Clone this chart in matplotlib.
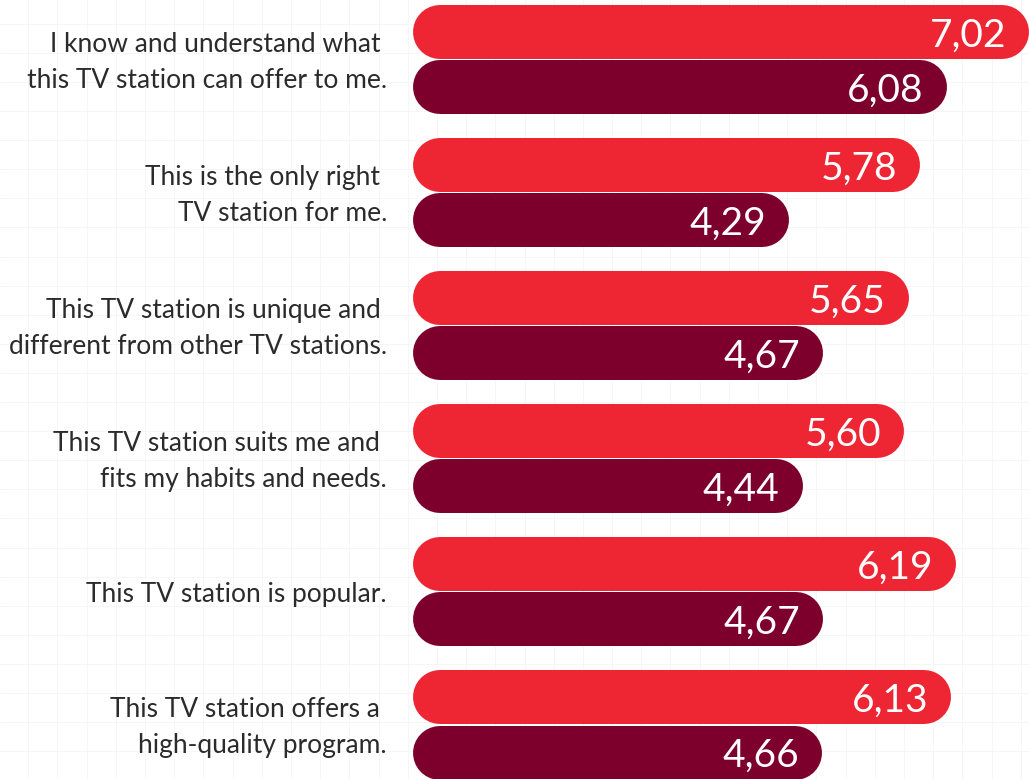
import matplotlib.pyplot as plt
import numpy as np

labels = [
    "I know and understand what \nthis TV station can offer to me.",
    "This is the only right \nTV station for me.",
    "This TV station is unique and \ndifferent from other TV stations.",
    "This TV station suits me and \nfits my habits and needs.",
    "This TV station is popular.",
    "This TV station offers a \nhigh-quality program.",
]
series_a = [7.02, 5.78, 5.65, 5.60, 6.19, 6.13]
series_b = [6.08, 4.29, 4.67, 4.44, 4.67, 4.66]

RED = '#ee2633'
MAROON = '#7d002c'

W, H, DPI = 1029, 779, 100
fig = plt.figure(figsize=(W / DPI, H / DPI), dpi=DPI)

# faint squared paper in the background
bg = fig.add_axes([0, 0, 1, 1])
bg.set_xlim(0, W)
bg.set_ylim(H, 0)
for x in np.arange(28.3, W, 29.19):
    bg.axvline(x, color='#f5f5f5', lw=0.6)
for y in np.arange(23.7, H, 29.1):
    bg.axhline(y, color='#f5f5f5', lw=0.6)
bg.axis('off')

left = 413
ax = fig.add_axes([left / W, 0, 1 - left / W, 1])
ax.set_xlim(0, 7.02)
ax.set_ylim(5.406, -0.447)
ax.axis('off')

px_per_unit = (W - left) / 7.02
bar_px = 54
lw = bar_px * 72 / DPI
r = bar_px / 2 / px_per_unit
off = 0.207

for i, (a, b) in enumerate(zip(series_a, series_b)):
    for v, dy, c in ((a, -off, RED), (b, off, MAROON)):
        ax.plot([r, v - r], [i + dy] * 2, color=c, lw=lw, solid_capstyle='round')
        ax.text(v - 23 / px_per_unit, i + dy, f'{v:.2f}'.replace('.', ','),
                ha='right', va='center_baseline', color='white', fontsize=28,
                family='Lato')
    # labels sit a touch below the group centre
    ax.text(-26 / px_per_unit, i + 0.02, labels[i], ha='right', va='center',
            multialignment='right', color='#2b2b2b', fontsize=19,
            family='Lato', linespacing=1.55)

fig.savefig('out.png', dpi=DPI)
